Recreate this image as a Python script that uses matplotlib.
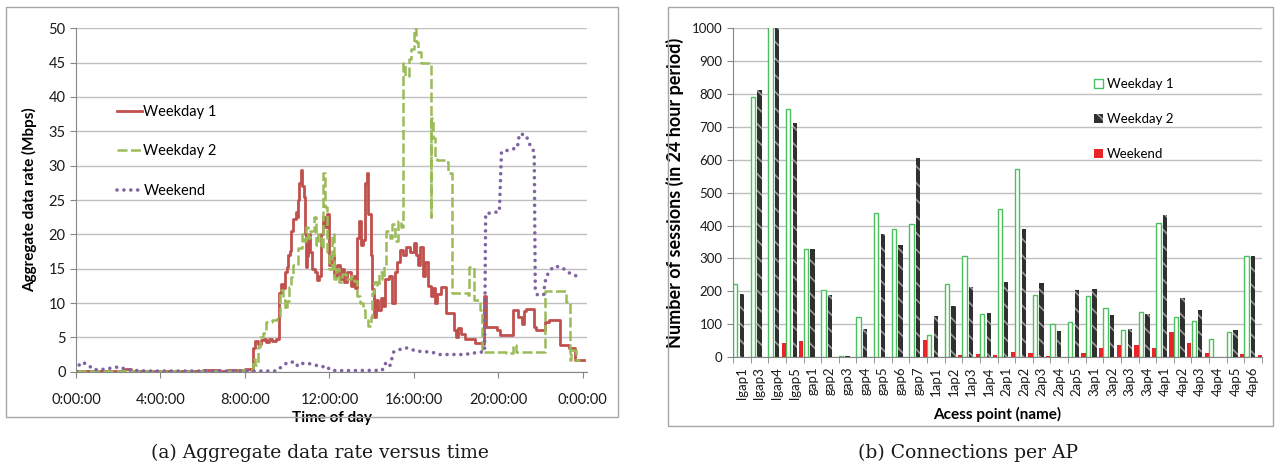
import matplotlib
matplotlib.use("Agg")
import matplotlib.pyplot as plt
from matplotlib.patches import Rectangle, Patch
import numpy as np

plt.rcParams['font.family'] = ['Lato', 'DejaVu Sans']
plt.rcParams['hatch.linewidth'] = 1.2

# ---- panel (a): aggregate data rate, hours of day vs Mbps ----
wd1_t = [0.0, 1.5, 2.3, 2.6, 4.0, 6.0, 6.8, 7.2, 8.0, 8.3, 8.4, 8.5, 8.6, 8.75, 8.9, 9.0,
         9.15, 9.3, 9.45, 9.6, 9.7, 9.8, 9.9, 10.0, 10.05, 10.15, 10.2, 10.3, 10.4, 10.45,
         10.5, 10.55, 10.65, 10.72, 10.78, 10.85, 10.9, 10.95, 11.0, 11.1, 11.2, 11.3, 11.4,
         11.5, 11.6, 11.7, 11.8, 11.9, 12.0, 12.1, 12.2, 12.35, 12.5, 12.6, 12.7, 12.85,
         13.0, 13.1, 13.2, 13.3, 13.4, 13.5, 13.6, 13.7, 13.8, 13.85, 13.95, 14.0, 14.1,
         14.2, 14.3, 14.45, 14.55, 14.65, 14.8, 14.95, 15.1, 15.2, 15.35, 15.5, 15.65, 15.8,
         16.0, 16.1, 16.2, 16.3, 16.45, 16.55, 16.65, 16.8, 16.9, 17.0, 17.1, 17.3, 17.5,
         17.9, 18.0, 18.1, 18.25, 18.4, 18.9, 19.25, 19.3, 19.4, 19.95, 20.1, 20.7, 20.95,
         21.1, 21.2, 21.3, 21.7, 21.8, 22.2, 22.4, 22.9, 23.35, 23.65, 24.05]
wd1_v = [0.1, 0.15, 0.4, 0.15, 0.1, 0.2, 0.1, 0.3, 0.4, 0.3, 3.4, 4.4, 4.0, 4.6, 4.7, 4.3,
         4.8, 4.4, 4.8, 11.4, 12.8, 12.2, 14.5, 15.3, 17.0, 17.6, 20.5, 22.3, 23.2, 22.5,
         25.0, 27.5, 29.3, 27.0, 25.5, 20.0, 15.3, 16.8, 20.0, 17.5, 15.0, 14.5, 13.3,
         14.0, 20.0, 22.5, 21.0, 23.0, 15.5, 17.0, 14.0, 15.5, 13.5, 15.0, 13.0, 14.5,
         12.5, 14.0, 12.2, 19.5, 22.0, 18.5, 19.2, 27.5, 29.0, 23.0, 17.0, 12.0, 8.0,
         10.5, 9.0, 10.8, 9.5, 13.5, 14.0, 10.0, 14.5, 16.0, 17.7, 17.0, 18.2, 17.5,
         18.7, 17.0, 15.5, 18.2, 14.0, 16.0, 12.5, 11.0, 12.2, 10.0, 11.3, 12.4, 8.5,
         6.0, 5.0, 6.3, 5.5, 4.8, 4.2, 4.0, 11.0, 6.5, 6.0, 5.4, 9.0, 8.0,
         7.0, 8.8, 9.2, 6.5, 6.0, 7.3, 7.5, 3.9, 3.4, 1.7, 1.7]

wd2_t = [0.0, 3.0, 6.0, 7.5, 8.2, 8.4, 8.5, 8.6, 8.7, 8.85, 9.0, 9.3, 9.5, 9.65, 9.8, 9.9,
         10.0, 10.1, 10.2, 10.3, 10.5, 10.7, 10.8, 10.9, 11.0, 11.1, 11.25, 11.35, 11.45,
         11.6, 11.7, 11.8, 11.9, 12.0, 12.1, 12.2, 12.3, 12.45, 12.6, 12.8, 13.0, 13.15,
         13.3, 13.45, 13.6, 13.7, 13.85, 13.95, 14.0, 14.1, 14.25, 14.35, 14.5, 14.6, 14.7,
         14.85, 14.95, 15.1, 15.25, 15.4, 15.5, 15.6, 15.75, 15.85, 16.0, 16.1, 16.2, 16.35,
         16.8, 16.82, 16.9, 17.0, 17.1, 17.5, 17.6, 17.8, 18.55, 18.6, 18.85, 19.15, 19.25,
         20.35, 20.7, 20.85, 22.2, 23.2, 23.4, 23.45, 23.7, 23.85]
wd2_v = [0.1, 0.15, 0.1, 0.2, 0.3, 1.8, 1.0, 3.6, 5.0, 5.6, 7.2, 7.6, 8.0, 11.9, 10.5, 9.2,
         10.3, 12.4, 13.8, 15.5, 18.0, 20.0, 19.0, 21.0, 19.5, 20.5, 22.5, 18.5, 20.0,
         18.0, 29.0, 24.0, 17.5, 15.0, 20.0, 13.5, 15.0, 13.0, 14.2, 13.5, 14.0, 13.2,
         11.0, 10.0, 9.0, 7.5, 6.6, 8.0, 11.5, 13.0, 12.5, 14.5, 13.5, 15.5, 20.5,
         19.5, 21.5, 19.0, 22.0, 21.0, 45.0, 43.0, 45.5, 47.0, 50.0, 48.0, 46.5, 45.0,
         22.5, 37.0, 34.0, 31.0, 30.8, 30.5, 29.0, 11.5, 11.2, 15.3, 10.4, 9.0, 2.9,
         2.7, 3.9, 2.9, 11.7, 10.2, 1.7, 3.2, 1.7, 1.7]

wkd_t = [0.0, 0.1, 0.27, 0.58, 0.82, 1.14, 1.45, 1.77, 2.05, 2.4, 2.7, 3.35, 9.5, 9.65, 9.85,
         10.05, 10.4, 10.5, 10.7, 11.0, 11.3, 11.6, 11.9, 12.0, 12.3, 14.5, 14.65, 14.85,
         14.95, 15.05, 15.3, 15.6, 15.85, 16.1, 16.6, 16.9, 17.2, 18.4, 19.0, 19.35, 19.4,
         20.05, 20.15, 20.9, 21.0, 21.3, 21.5, 21.7, 21.75, 21.85, 22.15, 22.2, 22.3, 22.6,
         22.9, 23.2, 23.4, 23.65, 23.9]
wkd_v = [0.1, 0.8, 1.4, 1.0, 0.3, 0.3, 0.4, 0.6, 0.7, 0.3, 0.2, 0.1, 0.1, 0.5, 1.0,
         1.4, 1.4, 0.8, 1.2, 1.2, 1.0, 0.7, 0.8, 0.3, 0.15, 0.2, 1.2, 0.7,
         1.8, 2.9, 3.2, 3.5, 3.3, 3.0, 2.9, 2.8, 2.5, 2.5, 2.8, 2.9, 23.0,
         23.3, 32.0, 32.6, 34.6, 34.5, 33.0, 32.0, 12.0, 11.2, 11.2, 12.9, 14.0, 15.3,
         15.3, 14.8, 14.3, 14.0, 13.6]

time_ticks = [0, 4, 8, 12, 16, 20, 24]
time_labels = ["0:00:00", "4:00:00", "8:00:00", "12:00:00", "16:00:00", "20:00:00", "0:00:00"]

# ---- panel (b): sessions per access point ----
aps = ["lgap1", "lgap3", "lgap4", "lgap5", "gap1", "gap2", "gap3", "gap4", "gap5", "gap6",
       "gap7", "1ap1", "1ap2", "1ap3", "1ap4", "2ap1", "2ap2", "2ap3", "2ap4", "2ap5",
       "3ap1", "3ap2", "3ap3", "3ap4", "4ap1", "4ap2", "4ap3", "4ap4", "4ap5", "4ap6"]
sess_wd1 = [223, 792, 1050, 754, 329, 205, 3, 121, 438, 388,
            404, 66, 223, 308, 131, 449, 572, 188, 101, 106,
            185, 150, 81, 136, 409, 122, 111, 55, 76, 306]
sess_wd2 = [192, 812, 1030, 712, 329, 189, 3, 85, 374, 341,
            605, 125, 155, 214, 134, 228, 389, 225, 79, 204,
            207, 128, 85, 131, 432, 180, 143, 0, 82, 307]
sess_wkd = [0, 0, 43, 48, 0, 0, 0, 0, 0, 0,
            52, 0, 6, 10, 6, 15, 12, 3, 0, 13,
            27, 35, 35, 27, 77, 43, 13, 0, 10, 6]

RED = '#c0504d'
GREEN = '#9bbb59'
PURPLE = '#8064a2'
GRID = '#bfbfbf'
AXIS = '#868686'
TXT = '#1a1a1a'

fig = plt.figure(figsize=(12.79, 4.68), dpi=100)

# chart-area frames
fig.patches.append(Rectangle((6 / 1279, 1 - 417 / 468), 612 / 1279, 410 / 468,
                             transform=fig.transFigure, fill=False, ec='#a6a6a6', lw=1))
fig.patches.append(Rectangle((668 / 1279, 1 - 426 / 468), 605 / 1279, 419 / 468,
                             transform=fig.transFigure, fill=False, ec='#a6a6a6', lw=1))


def style_axes(ax):
    ax.grid(axis='y', color=GRID, lw=1)
    ax.set_axisbelow(True)
    for s in ['top', 'right']:
        ax.spines[s].set_visible(False)
    for s in ['left', 'bottom']:
        ax.spines[s].set_color(AXIS)
    ax.tick_params(colors=AXIS, labelcolor=TXT, direction='out', length=4)


# left panel
ax1 = fig.add_axes([76 / 1279, (468 - 371.7) / 468, 511 / 1279, 343.4 / 468])
style_axes(ax1)
ax1.step(wd1_t, wd1_v, where='post', color=RED, lw=2, label='Weekday 1')
ax1.step(wd2_t, wd2_v, where='post', color=GREEN, lw=1.8, dashes=(4, 1.4), label='Weekday 2')
ax1.plot(wkd_t, wkd_v, color=PURPLE, lw=2.6, dashes=(0.01, 1.9),
         dash_capstyle='round', label='Weekend')
ax1.set_xlim(0, 24.2)
ax1.set_ylim(0, 50)
ax1.set_yticks(range(0, 51, 5))
ax1.set_xticks(time_ticks)
ax1.set_xticklabels(time_labels)
ax1.tick_params(axis='both', labelsize=10.5)
ax1.tick_params(axis='x', pad=11)
ax1.set_xlabel('Time of day', fontsize=11, fontweight='bold', labelpad=3)
ax1.set_ylabel('Aggregate data rate (Mbps)', fontsize=11, fontweight='bold', labelpad=8)
ax1.legend(loc='upper left', bbox_to_anchor=(0.055, 0.815), frameon=False, fontsize=10.5,
           handlelength=1.7, handletextpad=0.1, labelspacing=1.75)

# right panel
ax2 = fig.add_axes([733 / 1279, (468 - 357) / 468, 529 / 1279, 328.7 / 468])
style_axes(ax2)
x = np.arange(len(aps))
w = 0.245
ax2.bar(x - 0.375, sess_wd1, w, facecolor='white', edgecolor='#4cbf5f', lw=1, label='Weekday 1')
ax2.bar(x, sess_wd2, w, facecolor='#303030', edgecolor='#9a9a9a', lw=0, hatch='\\\\',
        label='Weekday 2')
ax2.bar(x + 0.375, sess_wkd, w, facecolor='#e8262a', lw=0, label='Weekend')
ax2.set_xlim(-0.5, len(aps) - 0.5)
ax2.set_ylim(0, 1000)
ax2.set_yticks(range(0, 1001, 100))
ax2.set_xticks(x)
ax2.set_xticklabels(aps, rotation=90, fontsize=9.5)
ax2.set_xticks(np.arange(-0.5, len(aps), 1), minor=True)
ax2.tick_params(axis='x', which='major', length=0, pad=7)
ax2.tick_params(axis='x', which='minor', length=4, color=AXIS)
ax2.tick_params(axis='y', labelsize=9.5)
ax2.set_xlabel('Acess point (name)', fontsize=11, fontweight='bold', labelpad=6)
ax2.set_ylabel('Number of sessions (in 24 hour period)', fontsize=13, fontweight='bold',
               labelpad=6)
handles = [Patch(facecolor='white', edgecolor='#4cbf5f', lw=1),
           Patch(facecolor='#303030', edgecolor='#9a9a9a', lw=0, hatch='\\\\'),
           Patch(facecolor='#e8262a', lw=0)]
ax2.legend(handles, ['Weekday 1', 'Weekday 2', 'Weekend'], loc='upper left',
           bbox_to_anchor=(0.66, 0.885), frameon=False, fontsize=9.5,
           handlelength=0.7, handleheight=0.7, handletextpad=0.3, labelspacing=1.75)

# captions
fig.text(320 / 1279, 1 - 453 / 468, '(a) Aggregate data rate versus time',
         family='DejaVu Serif', fontsize=13.5, ha='center', va='center', color=TXT)
fig.text(968 / 1279, 1 - 453 / 468, '(b) Connections per AP',
         family='DejaVu Serif', fontsize=13.5, ha='center', va='center', color=TXT)

fig.savefig('out.png', dpi=100)
